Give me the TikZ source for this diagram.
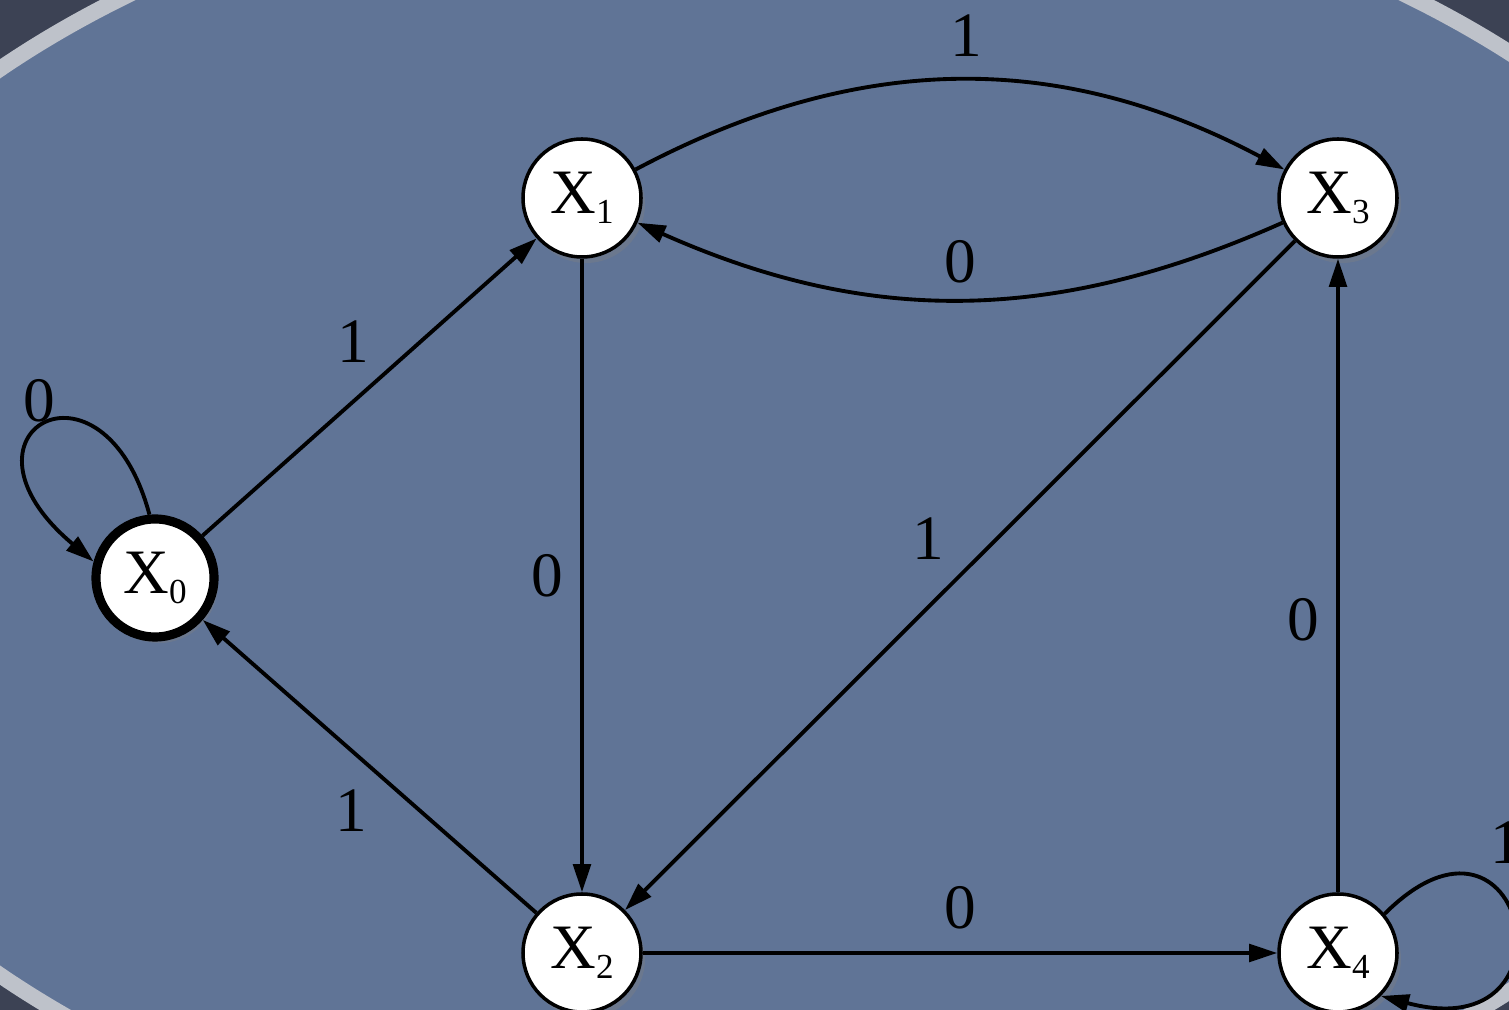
\documentclass[tikz,border=0pt]{standalone}
\usepackage{fontspec}
\setmainfont{Liberation Serif}
\usetikzlibrary{arrows.meta,positioning,shadows}
\definecolor{slateblue}{RGB}{96,116,150}
\definecolor{slatedark}{RGB}{60,66,84}
\definecolor{slaterim}{RGB}{190,194,202}
\newcommand\xstate[1]{X\raisebox{-3pt}{\fontsize{10}{10}\selectfont #1}}
\tikzset{
  statenode/.style={circle, draw, line width=1pt, fill=white, minimum size=1.18cm, inner sep=0pt, font=\fontsize{18}{20}\selectfont, drop shadow={opacity=0.35, shadow xshift=0.4mm, shadow yshift=-0.6mm}},
  startnode/.style={statenode, line width=2.6pt},
  edgearrow/.style={-{Triangle[length=8pt,width=5pt]}, line width=1.1pt},
  edgelabel/.style={font=\fontsize{18}{20}\selectfont, inner sep=2pt}
}

\begin{document}
\begin{tikzpicture}[node distance=7.55cm and 7.56cm, on grid]
\useasboundingbox (0,0) rectangle (15.09,10.10);
\clip (0,0) rectangle (15.09,10.10);
% slide background
\fill[slatedark] (0,0) rectangle (15.09,10.10);
\draw[slaterim, line width=0.16cm, fill=slateblue] (7.67,4.88) ellipse [x radius=10.48, y radius=6.65];
% states
\node[startnode] (X0) at (1.55,4.32) {\xstate{0}};
\node[statenode] (X2) at (5.82,0.57) {\xstate{2}};
\node[statenode, above=of X2] (X1) {\xstate{1}};
\node[statenode, right=of X2] (X4) {\xstate{4}};
\node[statenode, above=of X4] (X3) {\xstate{3}};
% transitions
\draw[edgearrow] (X0.95) .. controls +(105:1.8) and +(140:2.0) .. node[edgelabel, pos=0.55, above] {0} (X0.165);
\draw[edgearrow] (X0) -- node[edgelabel, pos=0.45, above=3mm] {1} (X1);
\draw[edgearrow] (X2) -- node[edgelabel, pos=0.555, below=3mm] {1} (X0);
\draw[edgearrow] (X1) -- node[edgelabel, midway, left=1mm] {0} (X2);
\draw[edgearrow] (X3) -- node[edgelabel, midway, above left=1mm] {1} (X2);
\draw[edgearrow] (X1) to[bend left=28] node[edgelabel, pos=0.51, above=1.5mm] {1} (X3);
\draw[edgearrow] (X3) to[bend left=24] node[edgelabel, midway, above=0.7mm] {0} (X1);
\draw[edgearrow] (X2) -- node[edgelabel, midway, above=1.5mm] {0} (X4);
\draw[edgearrow] (X4) -- node[edgelabel, pos=0.43, left=1mm] {0} (X3);
\draw[edgearrow] (X4.40) .. controls +(45:2.0) and +(-15:2.1) .. node[edgelabel, pos=0.3, above right=1mm, xshift=-1mm] {1} (X4.-45);
\end{tikzpicture}
\end{document}
